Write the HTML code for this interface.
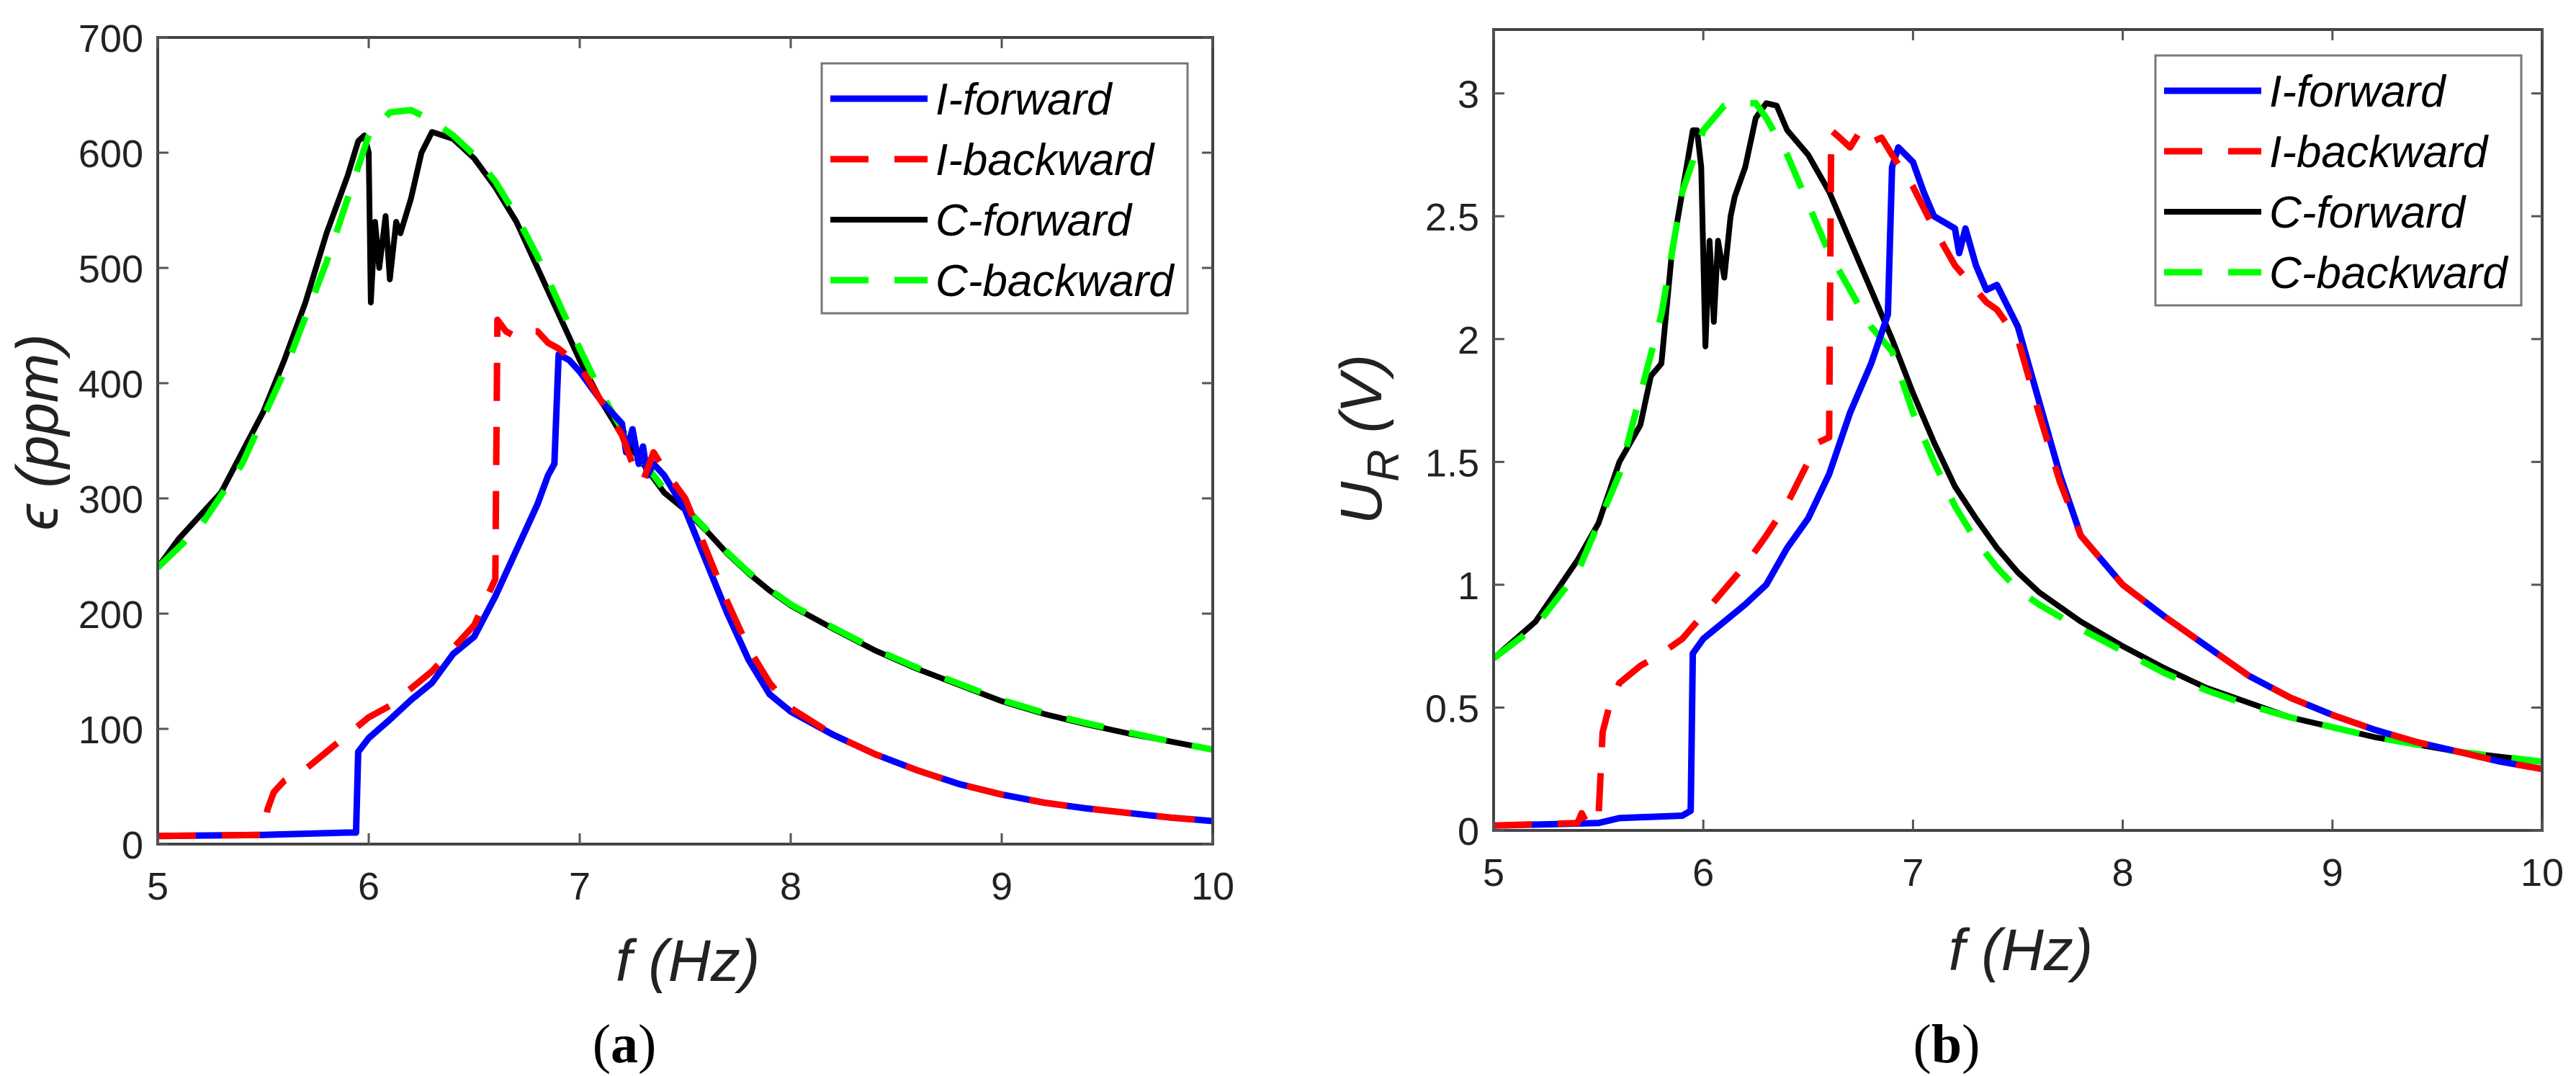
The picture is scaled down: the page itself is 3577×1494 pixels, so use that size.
<!DOCTYPE html>
<html><head><meta charset="utf-8"><style>
html,body{margin:0;padding:0;background:#fff;}
svg{display:block;font-family:"Liberation Sans",Arial,sans-serif;}
</style></head><body>
<svg id="fig" width="3577" height="1494" viewBox="0 0 3577 1494" xmlns="http://www.w3.org/2000/svg">
<rect width="3577" height="1494" fill="#fff"/>
<g id="panelA"></g>
<g id="panelB"></g>
</svg>
<script>
// ---------- Panel (a) data: strain epsilon (ppm) vs f (Hz) ----------
const aIfX = [5,5.5,5.9,5.94,5.95,6.0,6.1,6.2,6.3,6.4,6.5,6.6,6.7,6.8,6.85,6.88,6.9,6.95,7.0,7.1,7.2,7.22,7.25,7.28,7.3,7.32,7.35,7.4,7.5,7.6,7.7,7.8,7.9,8.0,8.2,8.4,8.6,8.8,9.0,9.2,9.4,9.6,9.8,10];
const aIfY = [7,8,10,10,80,92,108,125,140,165,180,215,255,295,320,330,425,420,410,385,365,340,360,330,345,320,330,320,290,245,200,160,130,115,95,78,64,52,43,36,31,27,23,20];
const aIbX = [5,5.5,5.52,5.55,5.6,5.7,5.8,5.9,6.0,6.1,6.2,6.3,6.4,6.5,6.55,6.6,6.61,6.65,6.7,6.75,6.8,6.85,6.9,7.0,7.1,7.2,7.25,7.3,7.35,7.4,7.5,7.6,7.7,7.8,7.9,8.0,8.2,8.4,8.6,8.8,9.0,9.2,9.4,9.6,9.8,10];
const aIbY = [7,8,30,45,55,65,80,95,110,120,135,150,170,190,210,230,455,445,440,445,445,435,430,415,385,355,330,315,340,325,300,255,210,170,140,118,95,78,64,52,43,36,31,27,23,20];
const aCfX = [5,5.1,5.2,5.3,5.4,5.5,5.6,5.7,5.8,5.9,5.95,5.98,6.0,6.01,6.03,6.05,6.08,6.1,6.13,6.15,6.2,6.25,6.3,6.4,6.5,6.6,6.7,6.8,6.9,7.0,7.1,7.2,7.3,7.4,7.5,7.6,7.7,7.8,7.9,8.0,8.2,8.4,8.6,8.8,9.0,9.2,9.4,9.6,9.8,10];
const aCfY = [240,265,285,305,340,375,420,470,530,580,610,615,600,470,540,500,545,490,540,530,560,600,618,612,595,570,540,500,460,420,385,355,330,305,290,272,252,235,220,207,187,168,152,138,124,113,104,96,89,82];
const aCbX = [5,5.2,5.4,5.6,5.8,5.9,6.0,6.1,6.2,6.3,6.4,6.5,6.6,6.7,6.8,6.9,7.0,7.1,7.2,7.3,7.4,7.5,7.6,7.7,7.8,7.9,8.0,8.2,8.4,8.6,8.8,9.0,9.2,9.4,9.6,9.8,10];
const aCbY = [240,275,330,410,505,560,615,635,637,628,615,598,575,545,510,470,430,392,360,332,308,292,273,253,236,221,208,188,169,153,139,125,114,105,97,89,82];
const aYTicks = [0,100,200,300,400,500,600,700];
const aYLabels = ["0","100","200","300","400","500","600","700"];
const xTicks = [5,6,7,8,9,10];
const xLabels = ["5","6","7","8","9","10"];

// ---------- Panel (b) data: U_R (V) vs f (Hz) ----------
const bIfX = [5,5.5,5.6,5.9,5.94,5.95,6.0,6.1,6.2,6.3,6.4,6.5,6.6,6.7,6.8,6.88,6.9,6.93,7.0,7.05,7.1,7.2,7.22,7.25,7.3,7.35,7.4,7.5,7.6,7.7,7.8,7.9,8.0,8.2,8.4,8.6,8.8,9.0,9.2,9.4,9.6,9.8,10];
const bIfY = [0.02,0.03,0.05,0.06,0.08,0.72,0.78,0.85,0.92,1.0,1.15,1.27,1.45,1.7,1.9,2.1,2.7,2.78,2.72,2.6,2.5,2.45,2.35,2.45,2.3,2.2,2.22,2.05,1.75,1.45,1.2,1.1,1.0,0.87,0.75,0.63,0.54,0.47,0.41,0.36,0.32,0.28,0.25];
const bIbX = [5,5.4,5.42,5.45,5.5,5.52,5.55,5.6,5.7,5.8,5.9,6.0,6.1,6.2,6.3,6.4,6.5,6.55,6.6,6.61,6.65,6.7,6.75,6.8,6.85,6.9,7.0,7.1,7.2,7.3,7.35,7.4,7.5,7.6,7.7,7.8,7.9,8.0,8.2,8.4,8.6,8.8,9.0,9.2,9.4,9.6,9.8,10];
const bIbY = [0.02,0.03,0.07,0.02,0.05,0.4,0.5,0.6,0.67,0.72,0.78,0.88,0.98,1.08,1.2,1.33,1.5,1.58,1.6,2.85,2.82,2.78,2.85,2.8,2.82,2.75,2.62,2.45,2.3,2.2,2.15,2.12,2.0,1.7,1.42,1.2,1.1,1.0,0.87,0.75,0.63,0.54,0.47,0.41,0.36,0.32,0.28,0.25];
const bCfX = [5,5.2,5.4,5.5,5.6,5.7,5.75,5.8,5.85,5.9,5.95,5.97,5.99,6.01,6.03,6.05,6.07,6.1,6.13,6.15,6.2,6.25,6.3,6.35,6.4,6.5,6.6,6.7,6.8,6.9,7.0,7.1,7.2,7.3,7.4,7.5,7.6,7.8,8.0,8.2,8.4,8.6,8.8,9.0,9.2,9.4,9.6,9.8,10];
const bCfY = [0.7,0.85,1.1,1.25,1.5,1.65,1.85,1.9,2.35,2.6,2.85,2.85,2.7,1.97,2.4,2.07,2.4,2.25,2.5,2.58,2.7,2.9,2.96,2.95,2.85,2.75,2.6,2.4,2.2,2.0,1.78,1.58,1.4,1.27,1.15,1.05,0.97,0.85,0.75,0.66,0.58,0.52,0.46,0.42,0.38,0.35,0.32,0.3,0.28];
const bCbX = [5,5.2,5.4,5.6,5.8,5.9,6.0,6.1,6.2,6.25,6.3,6.4,6.5,6.6,6.7,6.8,6.9,7.0,7.1,7.2,7.3,7.4,7.5,7.6,7.8,8.0,8.2,8.4,8.6,8.8,9.0,9.2,9.4,9.6,9.8,10];
const bCbY = [0.7,0.83,1.05,1.45,2.1,2.6,2.85,2.95,2.96,2.96,2.9,2.75,2.55,2.35,2.2,2.05,1.95,1.7,1.5,1.32,1.18,1.07,0.98,0.92,0.82,0.73,0.64,0.57,0.51,0.46,0.42,0.38,0.35,0.32,0.3,0.28];
const bYTicks = [0,0.5,1,1.5,2,2.5,3];
const bYLabels = ["0","0.5","1","1.5","2","2.5","3"];

const seriesNames = ["I-forward","I-backward","C-forward","C-backward"];
const NS = "http://www.w3.org/2000/svg";
function mk(tag, attrs, parent){
  const e = document.createElementNS(NS, tag);
  for (const k in attrs) e.setAttribute(k, attrs[k]);
  parent.appendChild(e);
  return e;
}
const styles = [
  {stroke:"#0000ff", w:9, dash:null},
  {stroke:"#ff0000", w:9, dash:"53 36"},
  {stroke:"#000000", w:8, dash:null},
  {stroke:"#00ff00", w:9, dash:"53 36"}
];

function drawPanel(g, cfg){
  const sx = v => cfg.L + (v - 5) / 5 * (cfg.R - cfg.L);
  const sy = v => cfg.B - (v - cfg.ymin) / (cfg.ymax - cfg.ymin) * (cfg.B - cfg.T);
  const dataSets = cfg.data;
  const clip = mk("clipPath", {id: cfg.id + "clip"}, g);
  mk("rect", {x: cfg.L, y: cfg.T, width: cfg.R - cfg.L, height: cfg.B - cfg.T}, clip);
  const sg = mk("g", {"clip-path": "url(#" + cfg.id + "clip)"}, g);
  const drawOrder = [2,3,0,1];
  for (const i of drawOrder){
    const xs = dataSets[i][0], ys = dataSets[i][1];
    let d = "";
    for (let k = 0; k < xs.length; k++) d += (k ? "L" : "M") + sx(xs[k]).toFixed(1) + "," + sy(ys[k]).toFixed(1);
    const p = mk("path", {d: d, fill: "none", stroke: styles[i].stroke, "stroke-width": styles[i].w, "stroke-linejoin": "round"}, sg);
    if (styles[i].dash) p.setAttribute("stroke-dasharray", styles[i].dash);
    
    
  }
  const box = mk("rect", {x: cfg.L, y: cfg.T, width: cfg.R - cfg.L, height: cfg.B - cfg.T, fill: "none", stroke: "#444", "stroke-width": 4}, g);
  
  
  for (let k = 0; k < xTicks.length; k++){
    const x = sx(xTicks[k]);
    mk("line", {x1: x, x2: x, y1: cfg.B, y2: cfg.B - 15, stroke: "#555", "stroke-width": 3}, g);
    mk("line", {x1: x, x2: x, y1: cfg.T, y2: cfg.T + 15, stroke: "#555", "stroke-width": 3}, g);
    const t = mk("text", {x: x, y: cfg.B + 77, "font-size": 54, "text-anchor": "middle", fill: "#222"}, g);
    t.textContent = xLabels[k];
    
    
  }
  for (let k = 0; k < cfg.yt.length; k++){
    const y = sy(cfg.yt[k]);
    mk("line", {x1: cfg.L, x2: cfg.L + 15, y1: y, y2: y, stroke: "#555", "stroke-width": 3}, g);
    mk("line", {x1: cfg.R, x2: cfg.R - 15, y1: y, y2: y, stroke: "#555", "stroke-width": 3}, g);
    const t = mk("text", {x: cfg.L - 20, y: y + 20, "font-size": 54, "text-anchor": "end", fill: "#222"}, g);
    t.textContent = cfg.yl[k];
    
    
  }
  const xl = mk("text", {x: cfg.xlx, y: cfg.xly, "font-size": 82, "font-style": "italic", "text-anchor": "middle", fill: "#222"}, g);
  xl.textContent = "f (Hz)";
  
  
  const yl = mk("text", {x: 0, y: 0, "font-size": 82, "font-style": "italic", "text-anchor": "middle", fill: "#222", transform: "translate(" + cfg.ylx + "," + cfg.yly + ") rotate(-90)"}, g);
  if (cfg.ylab === "eps"){
    yl.textContent = "\u03F5 (ppm)";
  } else {
    const s1 = mk("tspan", {}, yl); s1.textContent = "U";
    const s2 = mk("tspan", {dy: 24, "font-size": 62}, yl); s2.textContent = "R";
    const s3 = mk("tspan", {dy: -24}, yl); s3.textContent = " (V)";
  }
  
  
  const cap = mk("text", {x: cfg.capx, y: 1475, "font-size": 76, "text-anchor": "middle", fill: "#000", "font-family": "Liberation Serif, serif"}, g);
  const c1 = mk("tspan", {}, cap); c1.textContent = "(";
  const c2 = mk("tspan", {"font-weight": "bold"}, cap); c2.textContent = cfg.cap;
  const c3 = mk("tspan", {}, cap); c3.textContent = ")";
  
  
  const lg = mk("g", {}, g);
  
  
  mk("rect", {x: cfg.lgx, y: cfg.lgy, width: 508, height: 347, fill: "#fff", stroke: "#777", "stroke-width": 3}, lg);
  for (let i = 0; i < 4; i++){
    const y = cfg.lgy + 49 + i * 84;
    const ln = mk("line", {x1: cfg.lgx + 12, x2: cfg.lgx + 147, y1: y, y2: y, stroke: styles[i].stroke, "stroke-width": styles[i].w}, lg);
    if (styles[i].dash) ln.setAttribute("stroke-dasharray", styles[i].dash);
    
    
    const t = mk("text", {x: cfg.lgx + 158, y: y + 22, "font-size": 62, "font-style": "italic", fill: "#000"}, lg);
    t.textContent = seriesNames[i];
    
    
  }
}

drawPanel(document.getElementById("panelA"), {
  id: "a", L: 219, R: 1684, T: 52, B: 1172, ymin: 0, ymax: 700,
  yt: aYTicks, yl: aYLabels,
  data: [[aIfX, aIfY], [aIbX, aIbY], [aCfX, aCfY], [aCbX, aCbY]],
  xlx: 955, xly: 1362, ylx: 80, yly: 600, ylab: "eps",
  capx: 867, cap: "a", lgx: 1141, lgy: 88
});
drawPanel(document.getElementById("panelB"), {
  id: "b", L: 2074, R: 3530, T: 41, B: 1153, ymin: 0, ymax: 3.26,
  yt: bYTicks, yl: bYLabels,
  data: [[bIfX, bIfY], [bIbX, bIbY], [bCfX, bCfY], [bCbX, bCbY]],
  xlx: 2806, xly: 1347, ylx: 1918, yly: 610, ylab: "U",
  capx: 2703, cap: "b", lgx: 2993, lgy: 77
});
</script>
</body></html>
